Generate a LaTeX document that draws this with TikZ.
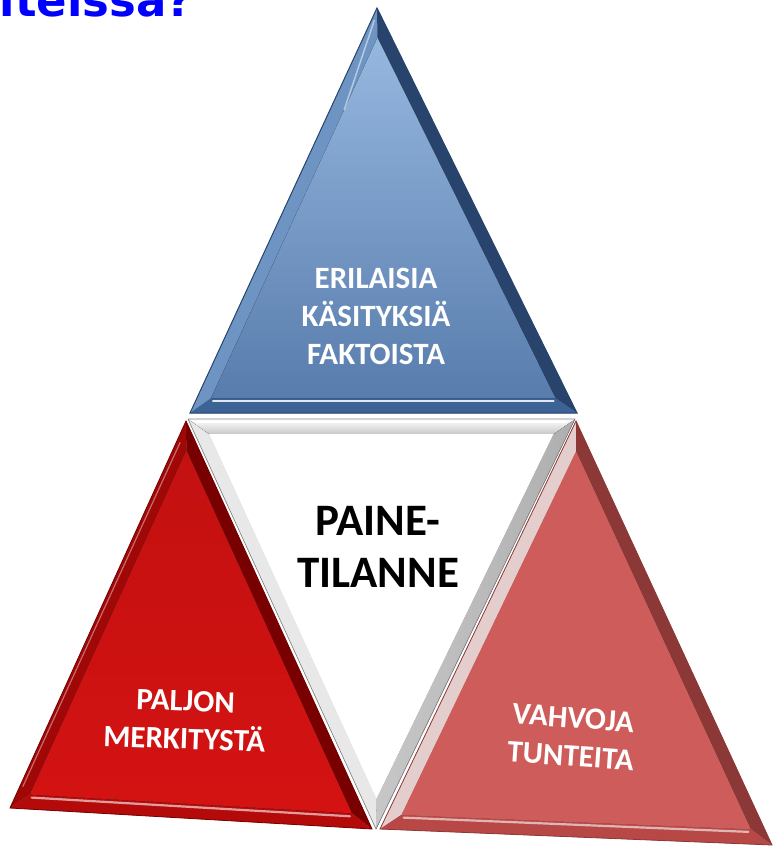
\documentclass[tikz,border=0pt]{standalone}
\usepackage{fontspec}
\setmainfont{Carlito}
\newfontfamily\titlefont{DejaVu Sans}
\usetikzlibrary{calc}
\definecolor{titleblue}{RGB}{0,0,255}
\definecolor{bluetop}{RGB}{150,184,224}
\definecolor{bluebot}{RGB}{88,124,172}
\definecolor{blueleft}{RGB}{110,148,196}
\definecolor{blueright}{RGB}{40,68,108}
\definecolor{bluebase}{RGB}{60,98,150}
\definecolor{redmain}{RGB}{212,18,18}
\definecolor{redleft}{RGB}{160,8,8}
\definecolor{redright}{RGB}{120,0,0}
\definecolor{redbase}{RGB}{180,10,10}
\definecolor{pinkmain}{RGB}{206,92,90}
\definecolor{pinkleft}{RGB}{228,206,205}
\definecolor{pinkright}{RGB}{140,56,54}
\definecolor{pinkbase}{RGB}{184,72,70}
\definecolor{greytop}{RGB}{200,200,200}
\definecolor{greyleft}{RGB}{232,232,232}
\definecolor{greyright}{RGB}{175,175,175}
\begin{document}
\begin{tikzpicture}[x=1pt,y=-1pt,
  whitetxt/.style={text=white,font=\bfseries\fontsize{31}{38}\selectfont,align=center,inner sep=0pt},
  blacktxt/.style={text=black,font=\bfseries\fontsize{45}{52}\selectfont,align=center,inner sep=0pt},
  shadowfill/.style={fill=black,fill opacity=0.16,draw=none},
  hilite/.style={draw=white,line width=2.2pt,draw opacity=0.85,line cap=round}]
\useasboundingbox (0,0) rectangle (783,851);
\clip (0,0) rectangle (783,851);

% ---------- vertices ----------
\coordinate (bA) at (377,8);   \coordinate (bB) at (190,413); \coordinate (bC) at (577,413);
\coordinate (wL) at (188,419); \coordinate (wR) at (575,419); \coordinate (wD) at (376,829);
\coordinate (lA) at (186,421); \coordinate (lB) at (10,808);  \coordinate (lC) at (372,829);
\coordinate (rA) at (576,421); \coordinate (rB) at (380,829); \coordinate (rC) at (772,845);

\coordinate (bO) at ($0.3333*(bA)+0.3333*(bB)+0.3334*(bC)$);
\coordinate (wO) at ($0.3333*(wL)+0.3333*(wR)+0.3334*(wD)$);
\coordinate (lO) at ($0.3333*(lA)+0.3333*(lB)+0.3334*(lC)$);
\coordinate (rO) at ($0.3333*(rA)+0.3333*(rB)+0.3334*(rC)$);
\foreach \t/\a/\b/\c in {b/A/B/C,w/L/R/D,l/A/B/C,r/A/B/C}{
  \coordinate (\t\a i) at ($(\t O)!0.89!(\t\a)$);
  \coordinate (\t\b i) at ($(\t O)!0.89!(\t\b)$);
  \coordinate (\t\c i) at ($(\t O)!0.89!(\t\c)$);
}

% ---------- shadows ----------
\foreach \dx/\dy in {3/2,6/4,9/6}{
  \fill[shadowfill,shift={(\dx,\dy)}] (bA)--(bB)--(bC)--cycle;
  \fill[shadowfill,shift={(\dx,\dy)}] (lA)--(lB)--(lC)--cycle;
  \fill[shadowfill,shift={(\dx,\dy)}] (rA)--(rB)--(rC)--cycle;
  \fill[shadowfill,shift={(\dx,\dy)}] (wL)--(wR)--(wD)--cycle;
}

% ---------- blue top triangle ----------
\fill[blueleft] (bA)--(bB)--(bBi)--(bAi)--cycle;
\fill[blueright] (bA)--(bC)--(bCi)--(bAi)--cycle;
\fill[bluebase] (bB)--(bC)--(bCi)--(bBi)--cycle;
\fill[top color=bluetop,bottom color=bluebot] (bAi)--(bBi)--(bCi)--cycle;
\draw[hilite] ($(bBi)+(2,3)$) -- ($(bCi)+(-2,3)$);
\draw[white,opacity=0.5,line width=1.5pt] ($(bA)!0.03!(bB)+(3,0)$) -- ($(bAi)!0.2!(bBi)$);
\draw[blueright,line width=1pt] (bA)--(bB)--(bC)--cycle;

% ---------- white centre triangle ----------
\fill[greyleft] (wL)--(wD)--(wDi)--(wLi)--cycle;
\fill[left color=greyright!70!white,right color=greyright] (wR)--(wD)--(wDi)--(wRi)--cycle;
\fill[top color=white,bottom color=greytop] (wL)--(wR)--(wRi)--(wLi)--cycle;
\fill[white] (wLi)--(wRi)--(wDi)--cycle;
\draw[white,line width=2pt] ($(wL)+(8,3)$) -- ($(wR)+(-8,3)$);
\draw[gray,line width=0.6pt] (wL)--(wR)--(wD)--cycle;

% ---------- left red triangle ----------
\fill[redleft] (lA)--(lB)--(lBi)--(lAi)--cycle;
\fill[redright] (lA)--(lC)--(lCi)--(lAi)--cycle;
\fill[redbase] (lB)--(lC)--(lCi)--(lBi)--cycle;
\fill[top color=redmain!92!black,bottom color=redmain] (lAi)--(lBi)--(lCi)--cycle;
\draw[hilite,draw opacity=0.6] ($(lBi)+(2,3)$) -- ($(lCi)+(-2,3)$);
\draw[white,opacity=0.4,line width=1.2pt] ($(lA)!0.05!(lB)+(3,2)$) -- ($(lB)!0.05!(lA)+(4,-2)$);
\draw[redright,line width=0.8pt] (lA)--(lB)--(lC)--cycle;

% ---------- right red triangle ----------
\fill[pinkleft] (rA)--(rB)--(rBi)--(rAi)--cycle;
\fill[pinkright] (rA)--(rC)--(rCi)--(rAi)--cycle;
\fill[pinkbase] (rB)--(rC)--(rCi)--(rBi)--cycle;
\fill[pinkmain] (rAi)--(rBi)--(rCi)--cycle;
\draw[hilite,draw opacity=0.6] ($(rBi)+(2,3)$) -- ($(rCi)+(-2,3)$);
\draw[pinkright,line width=0.8pt] (rA)--(rB)--(rC)--cycle;

% ---------- texts ----------
\node[text=titleblue,font=\titlefont\bfseries\fontsize{45}{54}\selectfont,anchor=base east,inner sep=0pt]
  (title) at (193,17) {iteissa?};
\node[whitetxt] (blue) at (376,316) {ERILAISIA\\KÄSITYKSIÄ\\FAKTOISTA};
\node[blacktxt] (centre) at (378,547) {PAINE-\\TILANNE};
\node[whitetxt,rotate=-2] (left) at (185,720) {PALJON\\MERKITYSTÄ};
\node[whitetxt,rotate=-4] (right) at (572,737) {VAHVOJA\\TUNTEITA};
\end{tikzpicture}
\end{document}
